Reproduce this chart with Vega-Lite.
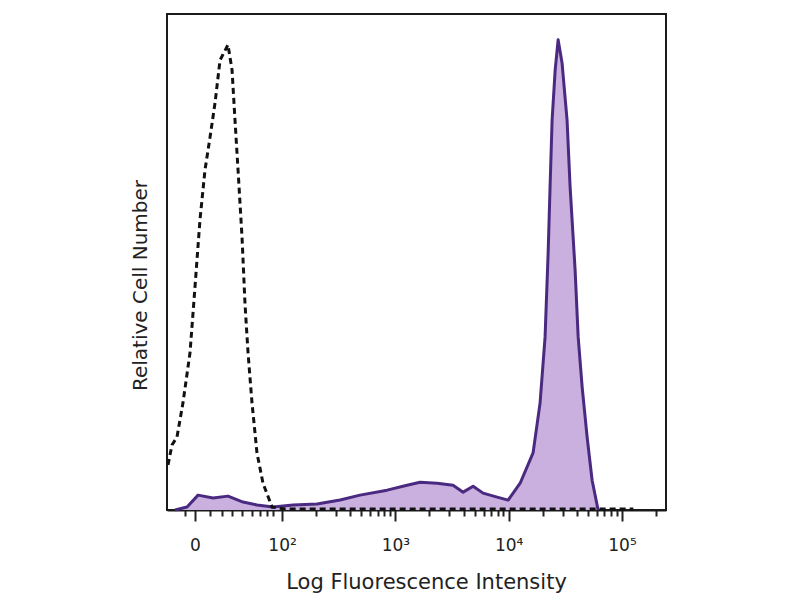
{
  "$schema": "https://vega.github.io/schema/vega-lite/v6.json",
  "width": 499,
  "height": 496,
  "autosize": "none",
  "padding": {"left": 167, "top": 14, "right": 134, "bottom": 90},
  "background": "white",
  "config": {
    "view": {"stroke": "#1a1a1a", "strokeWidth": 2},
    "font": "DejaVu Sans"
  },
  "datasets": {
    "stained": [
      {"pos": 1.056, "count": 0},
      {"pos": 1.162, "count": 0.6},
      {"pos": 1.259, "count": 3.0},
      {"pos": 1.391, "count": 2.4},
      {"pos": 1.523, "count": 2.8},
      {"pos": 1.656, "count": 1.6},
      {"pos": 1.779, "count": 1.0},
      {"pos": 1.921, "count": 0.6},
      {"pos": 2.097, "count": 1.0},
      {"pos": 2.309, "count": 1.2},
      {"pos": 2.512, "count": 2.0},
      {"pos": 2.688, "count": 3.0},
      {"pos": 2.927, "count": 4.0},
      {"pos": 3.103, "count": 5.0},
      {"pos": 3.218, "count": 5.6},
      {"pos": 3.368, "count": 5.4},
      {"pos": 3.509, "count": 5.0},
      {"pos": 3.598, "count": 3.6},
      {"pos": 3.686, "count": 4.8},
      {"pos": 3.774, "count": 3.4},
      {"pos": 3.898, "count": 2.6},
      {"pos": 3.995, "count": 2.0},
      {"pos": 4.101, "count": 5.4},
      {"pos": 4.215, "count": 11.5},
      {"pos": 4.277, "count": 21.6},
      {"pos": 4.321, "count": 34.9},
      {"pos": 4.348, "count": 51.8},
      {"pos": 4.365, "count": 65.1},
      {"pos": 4.383, "count": 78.6},
      {"pos": 4.410, "count": 88.7},
      {"pos": 4.436, "count": 94.8},
      {"pos": 4.471, "count": 90.1},
      {"pos": 4.515, "count": 78.6},
      {"pos": 4.542, "count": 65.1},
      {"pos": 4.586, "count": 48.4},
      {"pos": 4.613, "count": 34.9},
      {"pos": 4.648, "count": 24.8},
      {"pos": 4.692, "count": 14.7},
      {"pos": 4.736, "count": 6.0},
      {"pos": 4.789, "count": 0}
    ],
    "control": [
      {"pos": 0.994, "count": 9.1},
      {"pos": 1.029, "count": 13.1},
      {"pos": 1.073, "count": 14.7},
      {"pos": 1.126, "count": 21.6},
      {"pos": 1.188, "count": 31.7},
      {"pos": 1.232, "count": 45.0},
      {"pos": 1.276, "count": 58.5},
      {"pos": 1.320, "count": 68.5},
      {"pos": 1.365, "count": 75.2},
      {"pos": 1.409, "count": 82.1},
      {"pos": 1.453, "count": 90.7},
      {"pos": 1.523, "count": 93.8},
      {"pos": 1.559, "count": 88.7},
      {"pos": 1.585, "count": 78.6},
      {"pos": 1.612, "count": 68.5},
      {"pos": 1.647, "count": 55.0},
      {"pos": 1.673, "count": 41.7},
      {"pos": 1.700, "count": 31.7},
      {"pos": 1.735, "count": 21.6},
      {"pos": 1.779, "count": 11.5},
      {"pos": 1.832, "count": 5.4},
      {"pos": 1.912, "count": 0.6},
      {"pos": 2.03, "count": 0.2},
      {"pos": 5.1, "count": 0.2}
    ]
  },
  "encoding": {
    "x": {
      "field": "pos",
      "type": "quantitative",
      "scale": {"domain": [0.985, 5.388], "nice": false, "zero": false},
      "axis": {
        "title": "Log Fluorescence Intensity",
        "titleFontSize": 21,
        "titleFontWeight": "normal",
        "titleColor": "#222",
        "titlePadding": 18,
        "titleX": 259,
        "values": [1.14, 1.232, 1.365, 1.47, 1.559, 1.647, 1.735, 1.806, 1.868, 1.921, 2, 2.301, 2.477, 2.602, 2.699, 2.778, 2.845, 2.903, 2.954, 3, 3.301, 3.477, 3.602, 3.699, 3.778, 3.845, 3.903, 3.954, 4, 4.301, 4.477, 4.602, 4.699, 4.778, 4.845, 4.903, 4.954, 5, 5.301],
        "labelExpr": "datum.value == 1.232 ? '0' : datum.value == 2 ? '10²' : datum.value == 3 ? '10³' : datum.value == 4 ? '10⁴' : datum.value == 5 ? '10⁵' : ''",
        "labelOverlap": false,
        "labelFlush": false,
        "labelFontSize": 17,
        "labelColor": "#222",
        "labelPadding": 16,
        "tickColor": "#222",
        "tickWidth": 2,
        "tickSize": {"condition": {"test": "datum.value == 1.232 || datum.value == 2 || datum.value == 3 || datum.value == 4 || datum.value == 5", "value": 11}, "value": 6},
        "domainColor": "#1a1a1a",
        "domainWidth": 2,
        "grid": false
      }
    },
    "y": {
      "field": "count",
      "type": "quantitative",
      "scale": {"domain": [0, 100], "nice": false},
      "axis": {
        "title": "Relative Cell Number",
        "titleFontSize": 20,
        "titleFontWeight": "normal",
        "titleColor": "#222",
        "titlePadding": 17,
        "titleY": 271,
        "labels": false,
        "ticks": false,
        "domain": false,
        "grid": false
      }
    }
  },
  "layer": [
    {
      "data": {"name": "stained"},
      "mark": {"type": "area", "color": "#c9b0de", "opacity": 1, "interpolate": "linear"}
    },
    {
      "data": {"name": "stained"},
      "mark": {"type": "line", "color": "#4a2a80", "strokeWidth": 3, "strokeJoin": "round"}
    },
    {
      "data": {"name": "control"},
      "mark": {"type": "line", "color": "#111", "strokeWidth": 3, "strokeDash": [6, 4]}
    }
  ]
}
